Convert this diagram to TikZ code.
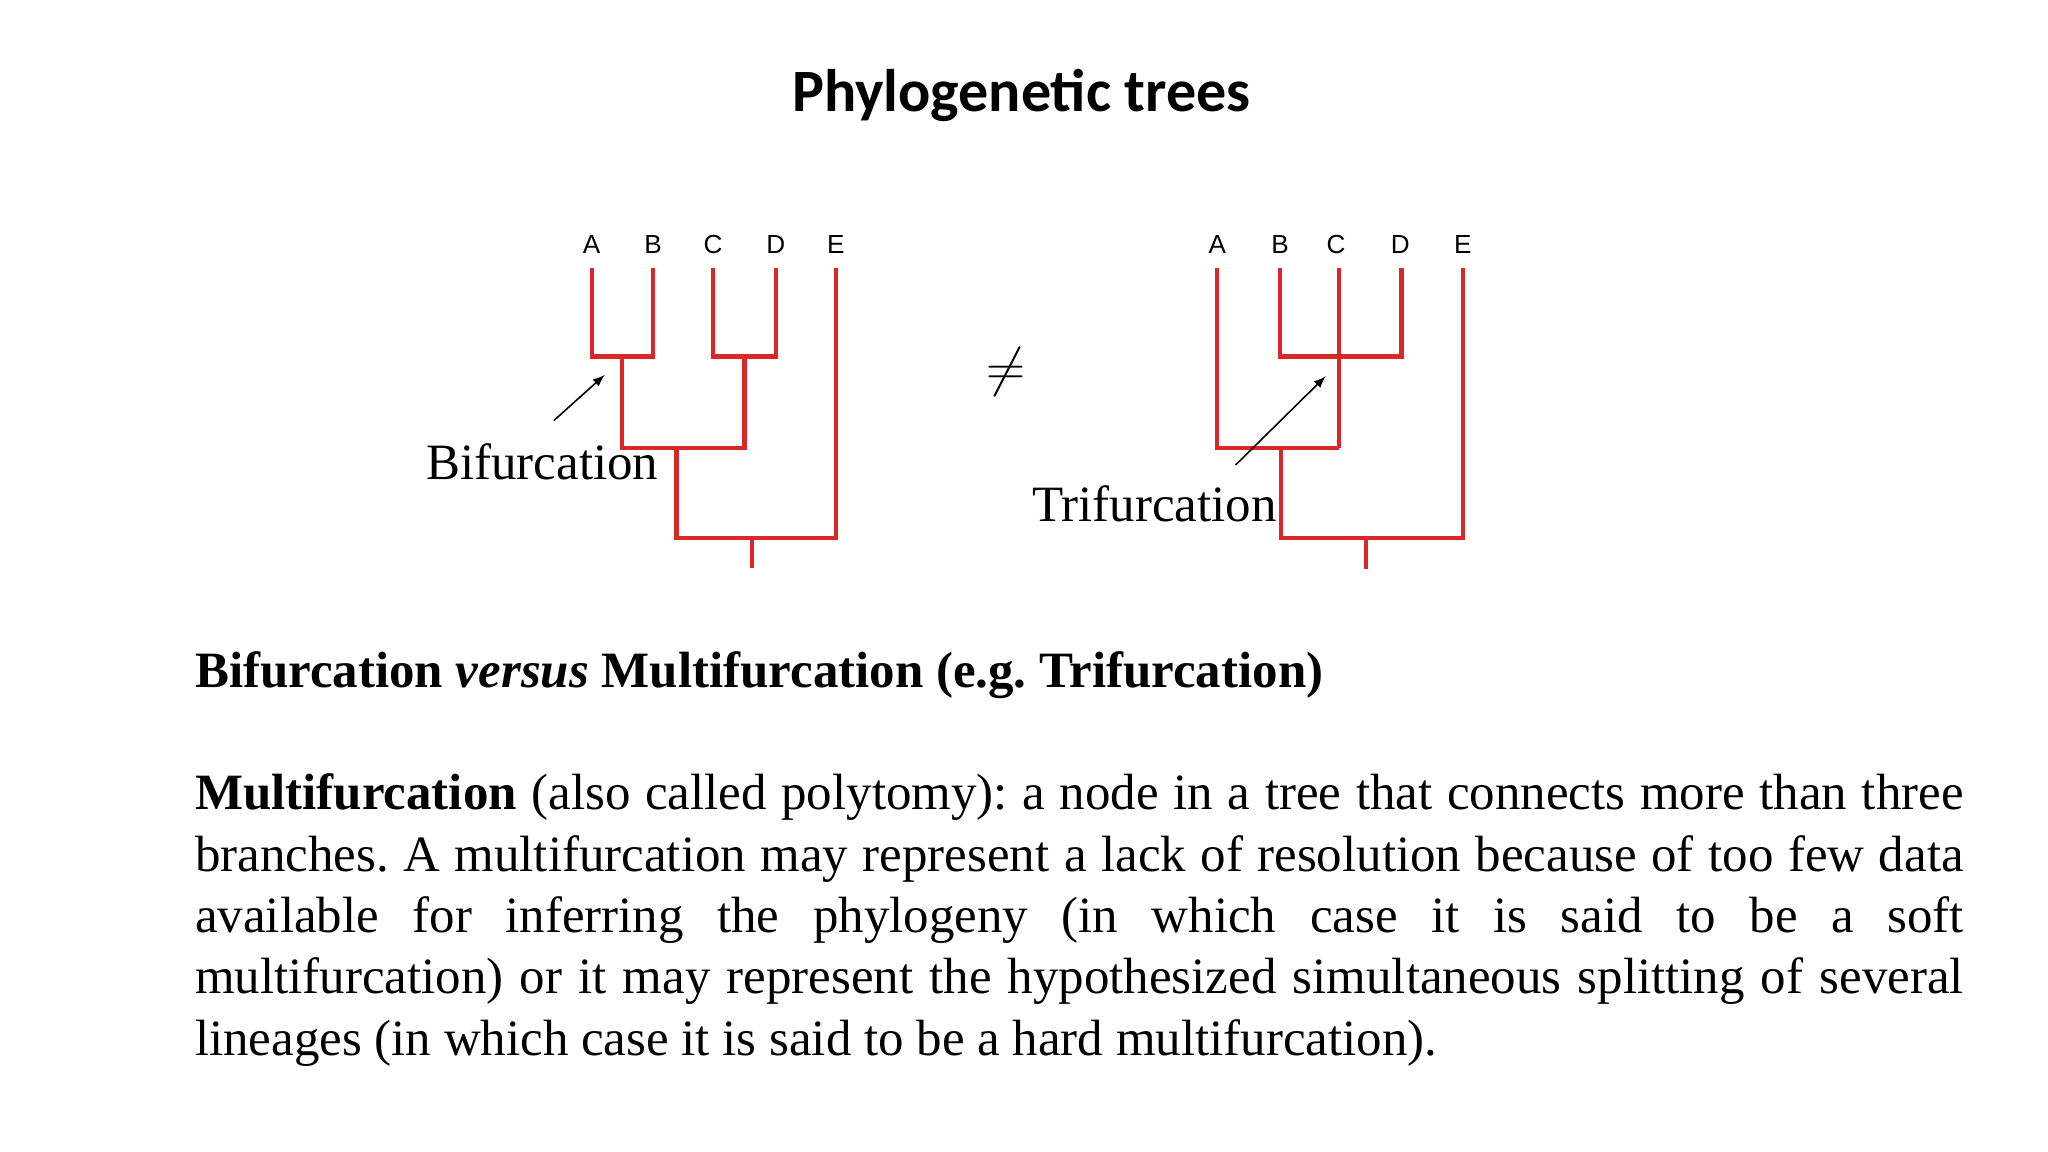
\documentclass[tikz,border=0pt]{standalone}
\usepackage{fontspec}
\setmainfont{Liberation Serif}
\newfontfamily\titlefont{Carlito}
\newfontfamily\leaffont{Liberation Sans}
\definecolor{treered}{RGB}{218,40,40}
\begin{document}
\frenchspacing
\begin{tikzpicture}[x=0.5pt,y=-0.5pt,
  br/.style={draw=treered,line width=1.6pt},
  leaf/.style={font=\leaffont\fontsize{10}{12}\selectfont,inner sep=0pt},
  lbl/.style={font=\fontsize{19.5}{23.5}\selectfont,inner sep=0pt,anchor=base west},
  arr/.style={-latex,line width=0.6pt}]
\useasboundingbox (0,0) rectangle (1568,882);
\node[font=\titlefont\bfseries\fontsize{23}{27}\selectfont] (title) at (782,73) {Phylogenetic trees};
% left tree
\foreach \n/\x in {A/453,B/500,C/546,D/594,E/640}{\node[leaf] (L\n) at (\x,187) {\n};}
\draw[br] (453,205) -- (453,273) -- (500,273) -- (500,205);
\draw[br] (546,205) -- (546,273) -- (594,273) -- (594,205);
\draw[br] (476,273) -- (476,343) -- (570,343) -- (570,273);
\draw[br] (518,343) -- (518,412) -- (640,412) -- (640,205);
\draw[br] (576,412) -- (576,435);
\node[lbl] (bif) at (326,367) {Bifurcation};
\coordinate (bs) at (424,322); \coordinate (bt) at (463,287);
\draw[arr] (bs) -- (bt);
% neq
\node[font=\fontsize{20}{24}\selectfont] (neq) at (770,285) {$\neq$};
% right tree
\foreach \n/\x in {A/932,B/980,C/1023,D/1072,E/1120}{\node[leaf] (R\n) at (\x,187) {\n};}
\draw[br] (980,205) -- (980,273) -- (1073,273) -- (1073,205);
\draw[br] (1025,205) -- (1025,343);
\draw[br] (932,205) -- (932,343) -- (1025,343);
\draw[br] (981,343) -- (981,412) -- (1120,412) -- (1120,205);
\draw[br] (1046,412) -- (1046,436);
\node[lbl] (tri) at (790,399) {Trifurcation};
\coordinate (ts) at (946,356); \coordinate (tt) at (1015,288);
\draw[arr] (ts) -- (tt);
% text
\node[lbl] (head) at (149,526) {\textbf{Bifurcation \textit{versus} Multifurcation (e.g. Trifurcation)}};
\node[font=\fontsize{19.5}{23.5}\selectfont,inner sep=0pt,anchor=north west,text width=677pt,align=justify] (body) at (149,592)
{\textbf{Multifurcation} (also called polytomy): a node in a tree that connects more than three\linebreak branches. A multifurcation may represent a lack of resolution because of too few data\linebreak available for inferring the phylogeny (in which case it is said to be a soft\linebreak multifurcation) or it may represent the hypothesized simultaneous splitting of several\linebreak lineages (in which case it is said to be a hard multifurcation).};
\end{tikzpicture}
\end{document}
